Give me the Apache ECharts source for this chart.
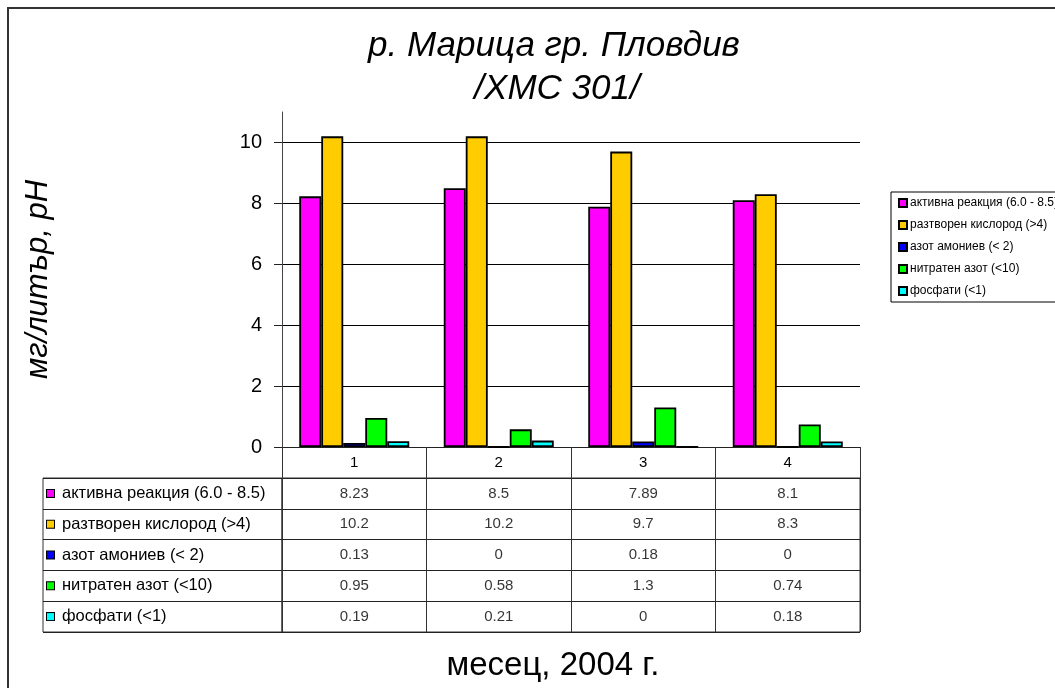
<!DOCTYPE html>
<html>
<head>
<meta charset="utf-8">
<script src="https://cdn.jsdelivr.net/npm/echarts@6/dist/echarts.min.js"></script>
<style>
html,body{margin:0;padding:0;background:#fff;}
#chart{width:1055px;height:688px;}
</style>
</head>
<body>
<div id="chart"></div>
<script>
const categories = ['1', '2', '3', '4'];
const seriesNames = [
  'активна реакция (6.0 - 8.5)',
  'разтворен кислород (>4)',
  'азот амониев (< 2)',
  'нитратен азот (<10)',
  'фосфати (<1)'
];
const phValues = [8.23, 8.5, 7.89, 8.1];
const oxygenValues = [10.2, 10.2, 9.7, 8.3];
const ammoniumValues = [0.13, 0, 0.18, 0];
const nitrateValues = [0.95, 0.58, 1.3, 0.74];
const phosphateValues = [0.19, 0.21, 0, 0.18];
const yMin = 0, yMax = 11, yInterval = 2;
const titleLine1 = 'р. Марица гр. Пловдив';
const titleLine2 = '/ХМС 301/';
const yName = 'мг/литър, pH';
const xName = 'месец, 2004 г.';
const colors = ['#FF00FF', '#FFCC00', '#0000FF', '#00FF00', '#00FFFF'];

const allValues = [phValues, oxygenValues, ammoniumValues, nitrateValues, phosphateValues];

const tableData = [];
allValues.forEach((vals, i) => vals.forEach((v, j) => tableData.push([j, i, v])));

const FONT = 'Liberation Sans, Arial, sans-serif';
const rich = {t: {fontSize: 16.5, color: '#000', fontFamily: FONT, padding: [0, 0, 0, 8]}};
colors.forEach((c, i) => {
  rich['c' + i] = {backgroundColor: c, borderColor: '#000', borderWidth: 1, width: 7, height: 7};
});

const chart = echarts.init(document.getElementById('chart'), null, {renderer: 'canvas'});

const barSeries = allValues.map((vals, i) => ({
  name: seriesNames[i],
  type: 'bar',
  xAxisIndex: 0,
  yAxisIndex: 0,
  data: vals,
  barWidth: 22,
  barGap: '0%',
  itemStyle: {color: colors[i], borderColor: '#000', borderWidth: 1.8},
  emphasis: {disabled: true}
}));

const option = {
  animation: false,
  backgroundColor: '#fff',
  textStyle: {fontFamily: FONT},
  graphic: [
    {type: 'rect', z: -10, silent: true, shape: {x: 8, y: 8, width: 1100, height: 720},
     style: {fill: 'none', stroke: '#333', lineWidth: 2}},
    {type: 'text', x: 554, y: 46, silent: true,
     style: {text: titleLine1, font: 'italic 35px ' + FONT, fill: '#000', textAlign: 'center', textVerticalAlign: 'middle'}},
    {type: 'text', x: 557, y: 89, silent: true,
     style: {text: titleLine2, font: 'italic 35px ' + FONT, fill: '#000', textAlign: 'center', textVerticalAlign: 'middle'}},
    {type: 'text', x: 553, y: 666, silent: true,
     style: {text: xName, font: '33px ' + FONT, fill: '#000', textAlign: 'center', textVerticalAlign: 'middle'}}
  ],
  legend: {
    data: seriesNames,
    orient: 'vertical',
    left: 891,
    top: 192,
    borderColor: '#000',
    borderWidth: 1,
    padding: [5, 40, 5, 7],
    itemGap: 10,
    itemWidth: 8,
    itemHeight: 8,
    icon: 'rect',
    textStyle: {fontSize: 12, color: '#000', fontFamily: FONT, padding: [0, 0, 0, -2]},
    selectedMode: false
  },
  grid: [
    {left: 282, top: 112, width: 578, height: 335},
    {left: 43, top: 478, width: 239, height: 154, show: true, borderColor: '#333', borderWidth: 1, backgroundColor: 'transparent'},
    {left: 282, top: 478, width: 578, height: 154, show: true, borderColor: '#333', borderWidth: 1, backgroundColor: 'transparent'}
  ],
  xAxis: [
    {gridIndex: 0, type: 'category', data: categories,
     axisLine: {show: true, lineStyle: {color: '#222', width: 1}},
     axisTick: {show: true, length: 31, lineStyle: {color: '#333', width: 1}},
     axisLabel: {color: '#000', fontSize: 15, margin: 8, fontFamily: FONT},
     splitLine: {show: false}},
    {gridIndex: 1, type: 'value', show: false},
    {gridIndex: 2, type: 'category', data: categories,
     axisLine: {show: false}, axisTick: {show: false}, axisLabel: {show: false},
     splitLine: {show: true, interval: 0, lineStyle: {color: '#333', width: 1}}}
  ],
  yAxis: [
    {gridIndex: 0, type: 'value', min: yMin, max: yMax, interval: yInterval,
     axisLine: {show: true, lineStyle: {color: '#444', width: 1}},
     axisTick: {show: true, length: 8, lineStyle: {color: '#222'}},
     axisLabel: {color: '#000', fontSize: 20, margin: 20, showMaxLabel: false, fontFamily: FONT},
     splitLine: {show: true, showMaxLine: false, lineStyle: {color: '#000', width: 1}},
     name: yName, nameLocation: 'middle', nameRotate: 90, nameGap: 228,
     nameTextStyle: {fontSize: 31, fontStyle: 'italic', color: '#000', fontFamily: FONT}},
    {gridIndex: 1, type: 'category', data: seriesNames, inverse: true,
     axisLine: {show: false}, axisTick: {show: false},
     axisLabel: {inside: true, margin: 4, align: 'left', color: '#000',
       formatter: (v, idx) => '{c' + idx + '|}{t|' + v + '}', rich: rich},
     splitLine: {show: true, interval: 0, lineStyle: {color: '#222', width: 1}}},
    {gridIndex: 2, type: 'category', data: seriesNames, inverse: true,
     axisLine: {show: false}, axisTick: {show: false}, axisLabel: {show: false},
     splitLine: {show: true, interval: 0, lineStyle: {color: '#222', width: 1}}}
  ],
  series: barSeries.concat([{
    name: 'table',
    type: 'scatter',
    xAxisIndex: 2,
    yAxisIndex: 2,
    data: tableData,
    symbolSize: 0,
    silent: true,
    label: {show: true, position: 'inside', color: '#000', fontSize: 15, fontFamily: FONT,
      formatter: p => String(p.value[2])}
  }])
};
chart.setOption(option);
</script>
</body>
</html>
